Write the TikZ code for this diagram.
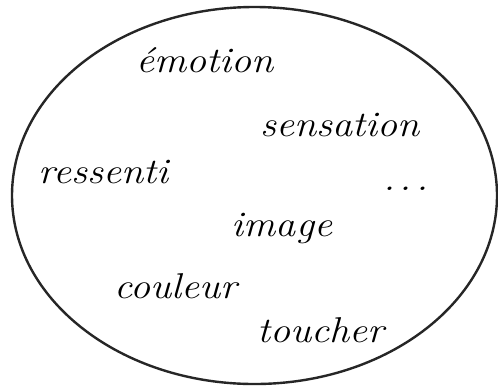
\documentclass[tikz,border=0pt]{standalone}
\usepackage{fontspec}
\setmainfont{Latin Modern Roman}
\begin{document}
\begin{tikzpicture}[x=1bp,y=-1bp,
  word/.style={font=\fontsize{36}{40}\selectfont\itshape, inner sep=0pt, anchor=base, xscale=1.12},
  outline/.style={line width=2.4bp, draw=black!85}]
\useasboundingbox (0,0) rectangle (498,388);
\fill[white] (0,0) rectangle (498,388);
\draw[outline] (254.5,195.5) ellipse [x radius=242.5bp, y radius=188.5bp];
\node[word] (emotion) at (205,72) {émotion};
\node[word] (sensation) at (340,136) {sensation};
\node[word] (ressenti) at (104,183) {ressenti};
\node[word] (dots) at (406,190) {.\hspace{0.12em}.\hspace{0.12em}.};
\node[word] (image) at (282,236) {image};
\node[word] (couleur) at (176,298) {couleur};
\node[word] (toucher) at (321,342) {toucher};
\end{tikzpicture}
\end{document}
